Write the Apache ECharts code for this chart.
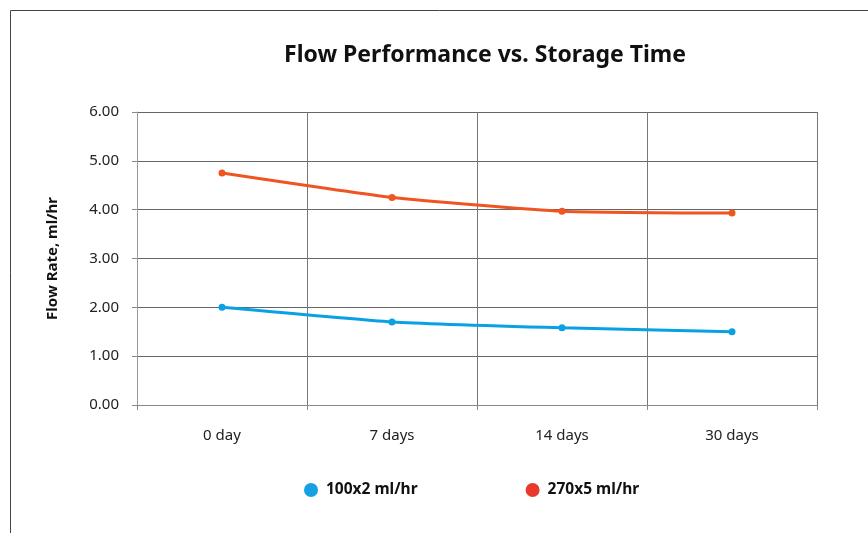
<!DOCTYPE html>
<html>
<head>
<meta charset="utf-8">
<script src="https://cdn.jsdelivr.net/npm/echarts@6/dist/echarts.min.js"></script>
<style>
  html, body { margin: 0; padding: 0; background: #fff; }
  #main { width: 868px; height: 533px; }
</style>
</head>
<body>
<div id="main"></div>
<script>
var categories = ['0 day', '7 days', '14 days', '30 days'];
var flow100x2 = [2.00, 1.70, 1.58, 1.50];
var flow270x5 = [4.75, 4.25, 3.97, 3.93];

var font = 'Noto Sans';
var chart = echarts.init(document.getElementById('main'));

var option = {
  backgroundColor: '#fff',
  title: {
    text: 'Flow Performance vs. Storage Time',
    left: 480,
    textAlign: 'center',
    top: 39,
    textStyle: { fontFamily: font, fontSize: 23, fontWeight: 'bold', color: '#111' }
  },
  graphic: [{
    type: 'rect',
    shape: { x: 10.5, y: 10.5, width: 900, height: 600 },
    style: { fill: 'none', stroke: '#444', lineWidth: 1 },
    silent: true
  }],
  legend: {
    bottom: 30,
    left: 299,
    itemGap: 108,
    itemWidth: 14,
    itemHeight: 14,
    icon: 'circle',
    textStyle: { fontFamily: font, fontSize: 15.5, fontWeight: 'bold', color: '#111', padding: [0, 0, 0, 3] },
    data: [
      { name: '100x2 ml/hr', itemStyle: { color: '#16a0e2' } },
      { name: '270x5 ml/hr', itemStyle: { color: '#e8392c' } }
    ]
  },
  grid: { left: 137, right: 51, top: 112, bottom: 128 },
  xAxis: {
    type: 'category',
    data: categories,
    boundaryGap: true,
    axisLine: { show: true, lineStyle: { color: '#888', width: 1 } },
    axisTick: { show: true, length: 5, lineStyle: { color: '#888' } },
    axisLabel: { fontFamily: font, fontSize: 15, color: '#222', margin: 23 },
    splitLine: { show: true, lineStyle: { color: '#777', width: 1 } }
  },
  yAxis: {
    type: 'value',
    min: 0,
    max: 6,
    interval: 1,
    name: 'Flow Rate, ml/hr',
    nameLocation: 'middle',
    nameGap: 77,
    nameTextStyle: { fontFamily: font, fontSize: 15, fontWeight: 'bold', color: '#111' },
    axisLine: { show: true, lineStyle: { color: '#999', width: 1 } },
    axisTick: { show: true, length: 5, lineStyle: { color: '#888' } },
    axisLabel: {
      fontFamily: font, fontSize: 15, color: '#222', margin: 18,
      formatter: function (v) { return v.toFixed(2); }
    },
    splitLine: { show: true, lineStyle: { color: '#666', width: 1 } }
  },
  series: [
    {
      name: '100x2 ml/hr',
      type: 'line',
      data: flow100x2,
      smooth: 0.15,
      symbol: 'circle',
      symbolSize: 7,
      lineStyle: { color: '#0aa0e4', width: 3 },
      itemStyle: { color: '#0aa0e4' }
    },
    {
      name: '270x5 ml/hr',
      type: 'line',
      data: flow270x5,
      smooth: 0.15,
      symbol: 'circle',
      symbolSize: 7,
      lineStyle: { color: '#ee5522', width: 3 },
      itemStyle: { color: '#ee5522' }
    }
  ]
};

chart.setOption(option);
</script>
</body>
</html>
